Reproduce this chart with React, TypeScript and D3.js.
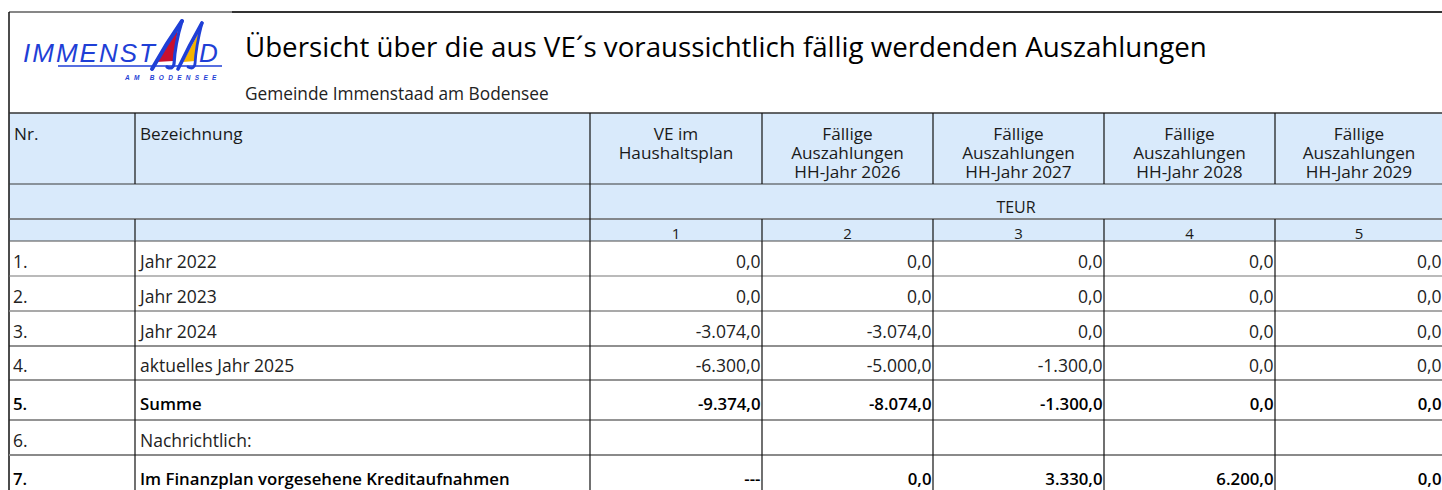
import React from "react";
import * as d3 from "d3";

const title = "Übersicht über die aus VE´s voraussichtlich fällig werdenden Auszahlungen";
const subtitle = "Gemeinde Immenstaad am Bodensee";

const headerLabels = [
  ["Nr."],
  ["Bezeichnung"],
  ["VE im", "Haushaltsplan"],
  ["Fällige", "Auszahlungen", "HH-Jahr 2026"],
  ["Fällige", "Auszahlungen", "HH-Jahr 2027"],
  ["Fällige", "Auszahlungen", "HH-Jahr 2028"],
  ["Fällige", "Auszahlungen", "HH-Jahr 2029"],
];
const unitLabel = "TEUR";
const colNumbers = ["1", "2", "3", "4", "5"];

const rowNumbers = ["1.", "2.", "3.", "4.", "5.", "6.", "7."];
const rowLabels = [
  "Jahr 2022",
  "Jahr 2023",
  "Jahr 2024",
  "aktuelles Jahr 2025",
  "Summe",
  "Nachrichtlich:",
  "Im Finanzplan vorgesehene Kreditaufnahmen",
];
const boldRows = [false, false, false, false, true, false, true];

// values per column (null = empty, "---" = dash)
const veHaushaltsplan: (number | string | null)[] = [0, 0, -3074, -6300, -9374, null, "---"];
const hh2026: (number | null)[] = [0, 0, -3074, -5000, -8074, null, 0];
const hh2027: (number | null)[] = [0, 0, 0, -1300, -1300, null, 3330];
const hh2028: (number | null)[] = [0, 0, 0, 0, 0, null, 6200];
const hh2029: (number | null)[] = [0, 0, 0, 0, 0, null, 0];
const valueColumns = [veHaushaltsplan, hh2026, hh2027, hh2028, hh2029];

const W = 1442;
const H = 490;
const colWidths = [126, 455, 172, 171, 171, 171, 168];
const leftX = 9;
const colEdges = [leftX, ...Array.from(d3.cumsum(colWidths), (c) => leftX + c)];
const headerEdges = [113, 184, 219, 241];
const rowHeights = [35, 35, 35, 34, 40, 35, 40];
const rowEdges = [241, ...Array.from(d3.cumsum(rowHeights), (c) => 241 + c)];
const hLineColors = ["#4a4a4a", "#777", "#8c8c8c", "#222", "#2a2a2a", "#2a2a2a", "#8a8a8a", "#222"];
const hLineWidths = [1.2, 1.2, 1.5, 1.2, 1.2, 1.2, 2, 1];

const de = d3.formatLocale({ decimal: ",", thousands: ".", grouping: [3], currency: ["", "€"], minus: "-" });
const fmt = de.format(",.1f");

const FONT = "'Open Sans', 'DejaVu Sans', sans-serif";
const HEADER_FILL = "#d9eafb";
const BLUE = "#1f3fd6";
const LOGO_FONT = "'Liberation Sans', Arial, sans-serif";

function Logo() {
  return (
    <g>
      <text x={23} y={62} fontFamily={LOGO_FONT} fontStyle="italic" fontSize={26} fill={BLUE} letterSpacing={2}>
        IMMENST
      </text>
      <line x1={58} x2={222} y1={66} y2={66} stroke={BLUE} strokeWidth={1.3} />
      {/* sail 1 */}
      <path d="M156,62 L178,29 L173,61 Z" fill="#c8102e" />
      <path d="M152,69 Q166,44 182,21" fill="none" stroke={BLUE} strokeWidth={4} strokeLinecap="round" />
      <path d="M182,21 Q175,44 174,64 Q173,70 167,67" fill="none" stroke={BLUE} strokeWidth={3.2} strokeLinecap="round" />
      {/* sail 2 */}
      <path d="M183,62 L199,32 L195,61 Z" fill="#f5b400" />
      <path d="M178,69 Q189,46 202,23" fill="none" stroke={BLUE} strokeWidth={3.6} strokeLinecap="round" />
      <path d="M202,23 Q196,46 195,64 Q194,70 188,67" fill="none" stroke={BLUE} strokeWidth={2.8} strokeLinecap="round" />
      <text x={199} y={62} fontFamily={LOGO_FONT} fontStyle="italic" fontSize={26} fill={BLUE}>
        D
      </text>
      <text x={125} y={80} fontFamily={LOGO_FONT} fontStyle="italic" fontWeight="bold" fontSize={6.5} fill={BLUE} letterSpacing={4.3}>
        AM BODENSEE
      </text>
    </g>
  );
}

export default function App() {
  React.useEffect(() => {
    document.body.style.margin = "0";
    document.body.style.overflow = "hidden";
  }, []);

  const colCenter = (i: number) => (colEdges[i] + colEdges[i + 1]) / 2;

  return (
    <svg width={W} height={H} style={{ display: "block", position: "absolute", left: 0, top: 0, background: "#fff" }}>
      {/* header fill */}
      <rect x={leftX} y={headerEdges[0]} width={W - leftX} height={headerEdges[3] - headerEdges[0]} fill={HEADER_FILL} />

      {/* top frame */}
      <line x1={leftX} x2={232} y1={12} y2={12} stroke="#111" strokeWidth={1.2} />
      <line x1={232} x2={W} y1={12} y2={12} stroke="#333" strokeWidth={2} />
      <line x1={leftX} x2={leftX} y1={12} y2={H} stroke="#111" strokeWidth={1.5} />

      <Logo />
      <text x={245} y={57} fontFamily={FONT} fontSize={27.7} fill="#000">
        {title}
      </text>
      <text x={245} y={100} fontFamily={FONT} fontSize={17.3} fill="#222">
        {subtitle}
      </text>

      {/* header horizontal lines */}
      <line x1={leftX} x2={W} y1={headerEdges[0]} y2={headerEdges[0]} stroke="#333" strokeWidth={1.5} />
      <line x1={leftX} x2={W} y1={headerEdges[1]} y2={headerEdges[1]} stroke="#3a3a3a" strokeWidth={1.2} />
      <line x1={leftX} x2={W} y1={headerEdges[2]} y2={headerEdges[2]} stroke="#666" strokeWidth={1.5} />

      {/* header vertical lines */}
      {colEdges.slice(1, -1).map((x, i) => (
        <g key={"hv" + i}>
          <line x1={x} x2={x} y1={headerEdges[0]} y2={headerEdges[1]} stroke="#111" strokeWidth={1.2} />
          <line x1={x} x2={x} y1={headerEdges[2]} y2={headerEdges[3]} stroke="#111" strokeWidth={1.2} />
        </g>
      ))}
      <line x1={colEdges[2]} x2={colEdges[2]} y1={headerEdges[1]} y2={headerEdges[2]} stroke="#111" strokeWidth={1.2} />

      {/* header texts */}
      {headerLabels.map((lines, i) =>
        lines.map((t, j) => (
          <text
            key={"ht" + i + "-" + j}
            x={i < 2 ? colEdges[i] + 5 : colCenter(i)}
            y={139.5 + j * 19}
            textAnchor={i < 2 ? "start" : "middle"}
            fontFamily={FONT}
            fontSize={17.2}
            fill="#1a1a1a"
          >
            {t}
          </text>
        ))
      )}
      <text x={(colEdges[2] + W) / 2} y={213} textAnchor="middle" fontFamily={FONT} fontSize={16} fill="#1a1a1a">
        {unitLabel}
      </text>
      {colNumbers.map((n, i) => (
        <text key={"cn" + i} x={colCenter(i + 2)} y={238.5} textAnchor="middle" fontFamily={FONT} fontSize={15} fill="#1a1a1a">
          {n}
        </text>
      ))}

      {/* data horizontal lines */}
      {rowEdges.map((y, i) => (
        <line key={"rl" + i} x1={leftX} x2={W} y1={y} y2={y} stroke={hLineColors[i]} strokeWidth={hLineWidths[i]} />
      ))}
      {/* data vertical lines */}
      {colEdges.slice(1, -1).map((x, i) => (
        <line key={"dv" + i} x1={x} x2={x} y1={rowEdges[0]} y2={H} stroke="#111" strokeWidth={1.2} />
      ))}

      {/* data rows */}
      {rowLabels.map((label, r) => {
        const bold = boldRows[r];
        const base = rowEdges[r + 1] - (bold ? 10 : 8.5);
        const weight = bold ? 600 : 400;
        const fill = bold ? "#000" : "#222";
        const size = bold ? 16.8 : 17.5;
        return (
          <g key={"row" + r}>
            <text x={colEdges[0] + 4} y={base} fontFamily={FONT} fontSize={size} fontWeight={weight} fill={fill}>
              {rowNumbers[r]}
            </text>
            <text x={colEdges[1] + 5} y={base} fontFamily={FONT} fontSize={size} fontWeight={weight} fill={fill}>
              {label}
            </text>
            {valueColumns.map((col, c) => {
              const v = col[r];
              if (v === null || v === undefined) return null;
              const t = typeof v === "number" ? fmt(v) : v;
              return (
                <text
                  key={"v" + c}
                  x={colEdges[c + 3] - 1.5}
                  y={base}
                  textAnchor="end"
                  fontFamily={FONT}
                  fontSize={size}
                  fontWeight={weight}
                  fill={fill}
                >
                  {t}
                </text>
              );
            })}
          </g>
        );
      })}
    </svg>
  );
}
